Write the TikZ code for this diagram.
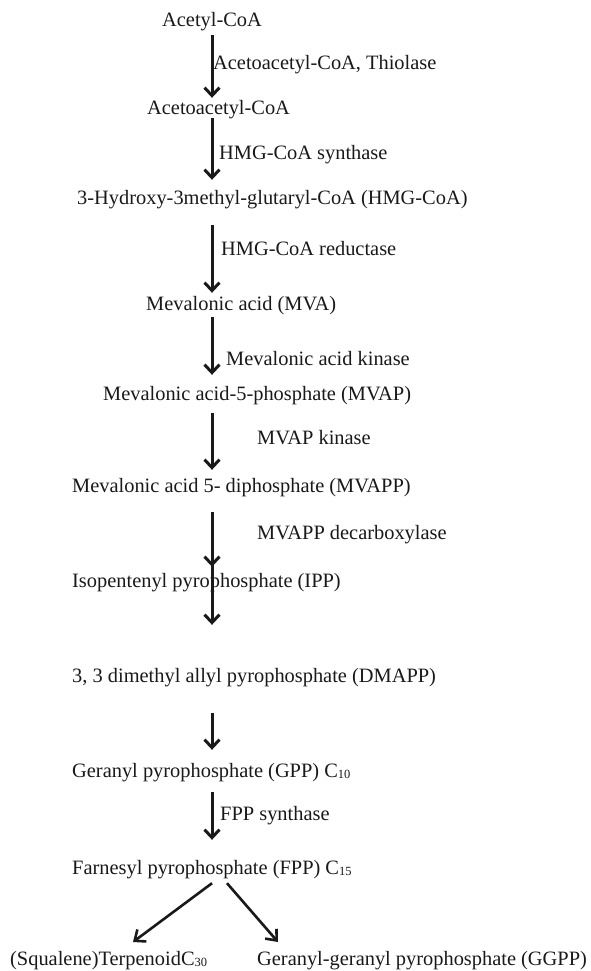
\documentclass[tikz,border=0pt]{standalone}
\usepackage{fontspec}
\setmainfont{Liberation Serif}
\usetikzlibrary{arrows.meta,calc}
\definecolor{ink}{RGB}{25,25,25}
\newcommand{\carb}[1]{{\fontsize{12.5}{12.5}\selectfont\raisebox{-1.5pt}{#1}}}
\tikzset{
  txt/.style={anchor=west, inner sep=0pt, text height=14pt, text depth=4pt,
    font=\fontsize{20.4}{24}\selectfont, text=ink},
  arr/.style={draw=ink, line width=3pt, -{Straight Barb[length=8pt,width=15pt]}},
  darr/.style={draw=ink, line width=2.6pt, -{Straight Barb[length=9pt,width=15pt]}},
}
\begin{document}
\begin{tikzpicture}[x=1pt, y=-1pt]
\useasboundingbox (0,0) rectangle (590,971);
\coordinate (axis) at (212,0);
% compounds
\node[txt] (acetyl) at (162,22) {Acetyl-CoA};
\node[txt] (acac)   at (147,110) {Acetoacetyl-CoA};
\node[txt] (hmg)    at (77,199) {3-Hydroxy-3methyl-glutaryl-CoA (HMG-CoA)};
\node[txt] (mva)    at (146,305) {Mevalonic acid (MVA)};
\node[txt] (mvap)   at (103,395) {Mevalonic acid-5-phosphate (MVAP)};
\node[txt] (mvapp)  at (72,487) {Mevalonic acid 5- diphosphate (MVAPP)};
\node[txt] (ipp)    at (72,582) {Isopentenyl pyrophosphate (IPP)};
\node[txt] (dmapp)  at (72,677) {3, 3 dimethyl allyl pyrophosphate (DMAPP)};
\node[txt] (gpp)    at (72,772) {Geranyl pyrophosphate (GPP) C\carb{10}};
\node[txt] (fpp)    at (72,869) {Farnesyl pyrophosphate (FPP) C\carb{15}};
\node[txt] (sq)     at (10,960) {(Squalene)TerpenoidC\carb{30}};
\node[txt] (ggpp)   at (257,960) {Geranyl-geranyl pyrophosphate (GGPP)};
% enzymes
\node[txt] (e1) at (213,65)  {Acetoacetyl-CoA, Thiolase};
\node[txt] (e2) at (219,154) {HMG-CoA synthase};
\node[txt] (e3) at (221,250) {HMG-CoA reductase};
\node[txt] (e4) at (226,360) {Mevalonic acid kinase};
\node[txt] (e5) at (257,439) {MVAP kinase};
\node[txt] (e6) at (257,534) {MVAPP decarboxylase};
\node[txt] (e7) at (220,815) {FPP synthase};
% arrows
\draw[arr, shorten <=4pt,  shorten >=3pt]  (acetyl.south -| axis) -- (acac.north -| axis);
\draw[arr, shorten <=-1pt, shorten >=10pt] (acac.south -| axis) -- (hmg.north -| axis);
\draw[arr, shorten <=17pt, shorten >=3pt]  (hmg.south -| axis) -- (mva.north -| axis);
\draw[arr, shorten <=3pt,  shorten >=11pt] (mva.south -| axis) -- (mvap.north -| axis);
\draw[arr, shorten <=9pt,  shorten >=8pt]  (mvap.south -| axis) -- (mvapp.north -| axis);
\draw[arr, shorten <=16pt, shorten >=6pt]  (mvapp.south -| axis) -- (ipp.north -| axis);
\draw[arr, shorten <=-13pt, shorten >=43pt] (ipp.north -| axis) -- (dmapp.north -| axis);
\draw[arr, shorten <=27pt, shorten >=13pt] (dmapp.south -| axis) -- (gpp.north -| axis);
\draw[arr, shorten <=11pt, shorten >=20pt] (gpp.south -| axis) -- (fpp.north -| axis);
% branches
\coordinate (fl) at ($(fpp.south -| axis)+(0,5)$);
\coordinate (fr) at ($(fpp.south -| axis)+(15,5)$);
\coordinate (sqt) at (133,942);
\coordinate (ggt) at (278,942);
\draw[darr] (fl) -- (sqt);
\draw[darr] (fr) -- (ggt);
\end{tikzpicture}
\end{document}
